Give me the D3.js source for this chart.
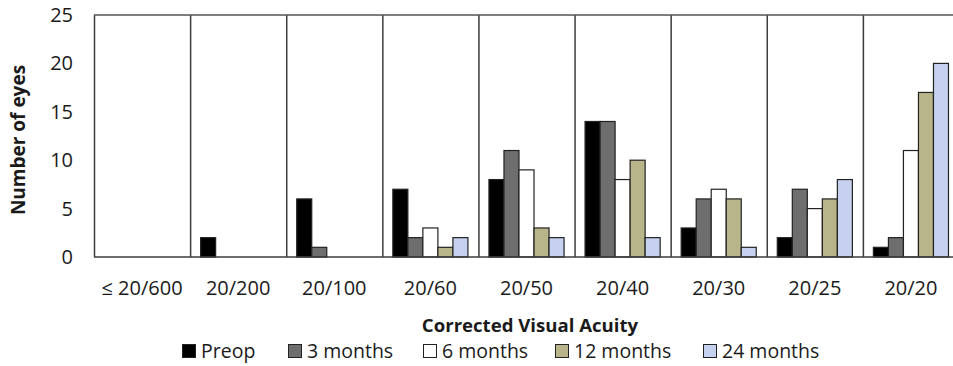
<!DOCTYPE html>
<html>
<head>
<meta charset="utf-8">
<script src="https://cdn.jsdelivr.net/npm/d3@7"></script>
<style>
  body { margin: 0; background: #fff; }
  text { font-family: "Open Sans", Lato, sans-serif; fill: #1a1a1a; }
</style>
</head>
<body>
<script>
// categories along the x axis
let categories = ["≤ 20/600", "20/200", "20/100", "20/60", "20/50", "20/40", "20/30", "20/25", "20/20"];
// one series per follow-up time
let seriesNames = ["Preop", "3 months", "6 months", "12 months", "24 months"];
let preop    = [0, 2, 6, 7, 8, 14, 3, 2, 1];
let months3  = [0, 0, 1, 2, 11, 14, 6, 7, 2];
let months6  = [0, 0, 0, 3, 9, 8, 7, 5, 11];
let months12 = [0, 0, 0, 1, 3, 10, 6, 6, 17];
let months24 = [0, 0, 0, 2, 2, 2, 1, 8, 20];
let yTicks = [0, 5, 10, 15, 20, 25];

let allSeries = [preop, months3, months6, months12, months24];
let colors = ["#000000", "#6e6e6e", "#ffffff", "#b9b58b", "#c5d1ee"];

let width = 953, height = 366;
let plot = { left: 94, right: 959, top: 15, bottom: 257 };

let svg = d3.select("body").append("svg")
  .attr("width", width)
  .attr("height", height);

// the scales
let xScale = d3.scaleBand()
  .domain(categories)
  .range([plot.left, plot.right]);
let xInner = d3.scaleBand()
  .domain(seriesNames)
  .range([0, xScale.bandwidth()])
  .paddingOuter(0.7);
let yScale = d3.scaleLinear()
  .domain([0, 25])
  .range([plot.bottom, plot.top]);
let colorScale = d3.scaleOrdinal().domain(seriesNames).range(colors);

// table built from the arrays
let table = [];
categories.forEach((c, i) => {
  seriesNames.forEach((s, j) => {
    table.push({ cat: c, series: s, value: allSeries[j][i] });
  });
});

// vertical separators between categories + frame
let frameColor = "#3c3c3c";
svg.append("g").selectAll("line")
  .data(categories)
  .join("line")
  .attr("x1", d => xScale(d) + 0.5)
  .attr("x2", d => xScale(d) + 0.5)
  .attr("y1", plot.top)
  .attr("y2", plot.bottom)
  .attr("stroke", frameColor)
  .attr("stroke-width", 1.5);
svg.append("line")
  .attr("x1", plot.left).attr("x2", plot.right)
  .attr("y1", plot.top).attr("y2", plot.top)
  .attr("stroke", "#555").attr("stroke-width", 1.5);
svg.append("line")
  .attr("x1", plot.right).attr("x2", plot.right)
  .attr("y1", plot.top).attr("y2", plot.bottom)
  .attr("stroke", frameColor).attr("stroke-width", 1.5);

// bars
svg.append("g").selectAll("rect")
  .data(table.filter(d => d.value > 0))
  .join("rect")
  .attr("x", d => xScale(d.cat) + xInner(d.series))
  .attr("y", d => yScale(d.value))
  .attr("width", xInner.bandwidth())
  .attr("height", d => yScale(0) - yScale(d.value))
  .attr("fill", d => colorScale(d.series))
  .attr("stroke", "#222")
  .attr("stroke-width", 1.2);

// x axis line
svg.append("line")
  .attr("x1", plot.left).attr("x2", plot.right)
  .attr("y1", plot.bottom).attr("y2", plot.bottom)
  .attr("stroke", frameColor).attr("stroke-width", 1.5);

// y tick labels
svg.append("g").selectAll("text")
  .data(yTicks)
  .join("text")
  .attr("x", 73)
  .attr("y", d => yScale(d))
  .attr("dy", "0.35em")
  .attr("text-anchor", "end")
  .style("font-size", "20px")
  .text(d => d);

// x tick labels
svg.append("g").selectAll("text")
  .data(categories)
  .join("text")
  .attr("x", d => xScale(d) + xScale.bandwidth() / 2)
  .attr("y", 288)
  .attr("dy", "0.35em")
  .attr("text-anchor", "middle")
  .style("font-size", "20px")
  .text(d => d);

// axis titles
svg.append("text")
  .attr("transform", `translate(18, ${(plot.top + plot.bottom) / 2 + 4}) rotate(-90)`)
  .attr("text-anchor", "middle")
  .attr("dy", "0.35em")
  .style("font-size", "19px")
  .style("font-weight", "bold")
  .text("Number of eyes");
svg.append("text")
  .attr("x", 530)
  .attr("y", 325)
  .attr("dy", "0.35em")
  .attr("text-anchor", "middle")
  .style("font-size", "18.6px")
  .style("font-weight", "bold")
  .text("Corrected Visual Acuity");

// legend
let legendX = [182, 288, 423, 555, 703];
let legend = svg.append("g").selectAll("g")
  .data(seriesNames)
  .join("g")
  .attr("transform", (d, i) => `translate(${legendX[i]}, 351)`);
legend.append("rect")
  .attr("x", 0.5).attr("y", -6.5)
  .attr("width", 13).attr("height", 13)
  .attr("fill", d => colorScale(d))
  .attr("stroke", "#222")
  .attr("stroke-width", 1);
legend.append("text")
  .attr("x", 19)
  .attr("y", 0)
  .attr("dy", "0.35em")
  .style("font-size", "19.5px")
  .text(d => d);
</script>
</body>
</html>
